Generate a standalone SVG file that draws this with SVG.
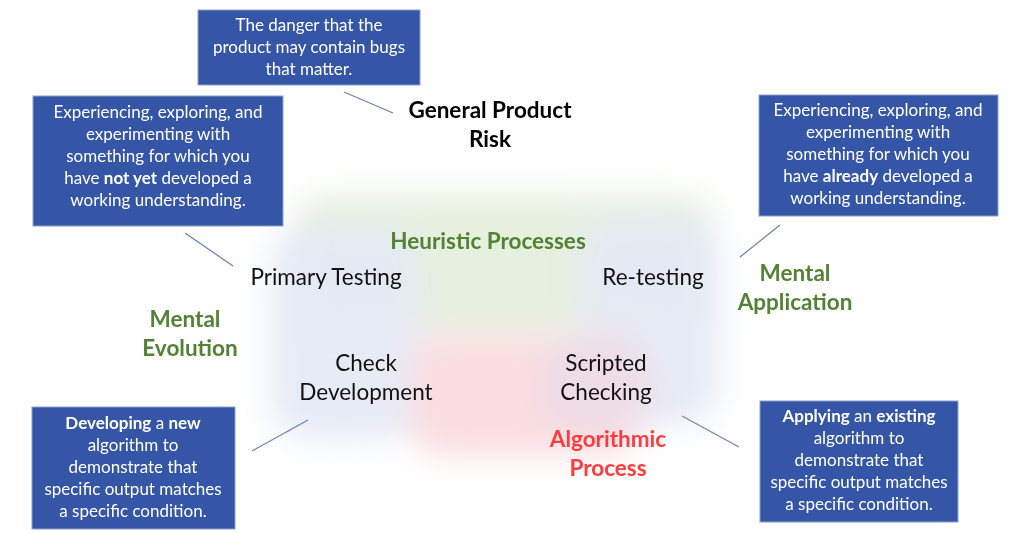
<svg xmlns="http://www.w3.org/2000/svg" width="1024" height="533" viewBox="0 0 1024 533">
<style>
.box{fill:#3556A6;stroke:#8EA0C9;stroke-width:1}
.bt{font-family:Lato,"Open Sans",sans-serif;font-size:17px;fill:#fff;text-anchor:middle}
.lbl{font-family:Lato,"Open Sans",sans-serif;font-size:22.5px;fill:#111;text-anchor:middle}
.g{font-family:Lato,"Open Sans",sans-serif;font-size:22.5px;font-weight:bold;fill:#548235;text-anchor:middle}
.r{font-family:Lato,"Open Sans",sans-serif;font-size:22.5px;font-weight:bold;fill:#FF3B3B;text-anchor:middle}
.k{font-family:Lato,"Open Sans",sans-serif;font-size:22.5px;font-weight:bold;fill:#000;text-anchor:middle}
.ln{stroke:#6F84B6;stroke-width:1.3;fill:none}
</style>
<defs>
<filter id="blur" x="-30%" y="-30%" width="160%" height="160%"><feGaussianBlur stdDeviation="16"/></filter>
</defs>
<rect width="1024" height="533" fill="#fff"/>
<g id="background" filter="url(#blur)">
<rect x="295" y="195" width="420" height="135" rx="30" fill="#E6F0DE"/>
<rect x="270" y="225" width="150" height="215" rx="40" fill="#E3E9F5" opacity="0.9"/>
<rect x="575" y="215" width="145" height="210" rx="40" fill="#E3E9F5" opacity="0.9"/>
<rect x="410" y="335" width="230" height="120" rx="30" fill="#FADDDF"/>
<rect x="540" y="340" width="110" height="90" rx="30" fill="#EEDCE6"/>
</g>
<g id="connectors">
<line class="ln" x1="344" y1="92" x2="393" y2="113"/>
<line class="ln" x1="185" y1="233" x2="233" y2="266"/>
<line class="ln" x1="780" y1="225" x2="740" y2="257"/>
<line class="ln" x1="308" y1="420" x2="252" y2="451"/>
<line class="ln" x1="682" y1="416" x2="739" y2="447"/>
</g>
<g id="risk-def">
<rect class="box" x="198" y="10" width="222" height="75"/>
<text class="bt" x="309" y="31">The danger that the</text>
<text class="bt" x="309" y="53">product may contain bugs</text>
<text class="bt" x="309" y="75">that matter.</text>
</g>
<g id="primary-def">
<rect class="box" x="33" y="96" width="250" height="130"/>
<text class="bt" x="158" y="118">Experiencing, exploring, and</text>
<text class="bt" x="158" y="140">experimenting with</text>
<text class="bt" x="158" y="162">something for which you</text>
<text class="bt" x="158" y="184">have <tspan font-weight="bold">not yet</tspan> developed a</text>
<text class="bt" x="158" y="206">working understanding.</text>
</g>
<g id="retest-def">
<rect class="box" x="759" y="95" width="239" height="121"/>
<text class="bt" x="878" y="116">Experiencing, exploring, and</text>
<text class="bt" x="878" y="138">experimenting with</text>
<text class="bt" x="878" y="160">something for which you</text>
<text class="bt" x="878" y="182">have <tspan font-weight="bold">already</tspan> developed a</text>
<text class="bt" x="878" y="204">working understanding.</text>
</g>
<g id="checkdev-def">
<rect class="box" x="32" y="407" width="203" height="122"/>
<text class="bt" x="133" y="429"><tspan font-weight="bold">Developing</tspan> a <tspan font-weight="bold">new</tspan></text>
<text class="bt" x="133" y="451">algorithm to</text>
<text class="bt" x="133" y="473">demonstrate that</text>
<text class="bt" x="133" y="495">specific output matches</text>
<text class="bt" x="133" y="517">a specific condition.</text>
</g>
<g id="scripted-def">
<rect class="box" x="760" y="401" width="198" height="121"/>
<text class="bt" x="859" y="422"><tspan font-weight="bold">Applying</tspan> an <tspan font-weight="bold">existing</tspan></text>
<text class="bt" x="859" y="444">algorithm to</text>
<text class="bt" x="859" y="466">demonstrate that</text>
<text class="bt" x="859" y="488">specific output matches</text>
<text class="bt" x="859" y="510">a specific condition.</text>
</g>
<g id="general-risk">
<text class="k" x="490" y="118">General Product</text>
<text class="k" x="490" y="147">Risk</text>
</g>
<g id="heuristic"><text class="g" x="488" y="249">Heuristic Processes</text></g>
<g id="primary"><text class="lbl" x="326" y="285">Primary Testing</text></g>
<g id="retesting"><text class="lbl" x="653" y="285">Re-testing</text></g>
<g id="mental-evolution">
<text class="g" x="185" y="327">Mental</text>
<text class="g" x="190" y="356">Evolution</text>
</g>
<g id="mental-application">
<text class="g" x="795" y="281">Mental</text>
<text class="g" x="795" y="310">Application</text>
</g>
<g id="check-development">
<text class="lbl" x="366" y="371">Check</text>
<text class="lbl" x="366" y="400">Development</text>
</g>
<g id="scripted-checking">
<text class="lbl" x="606" y="371">Scripted</text>
<text class="lbl" x="606" y="400">Checking</text>
</g>
<g id="algorithmic">
<text class="r" x="608" y="447">Algorithmic</text>
<text class="r" x="608" y="476">Process</text>
</g>
</svg>
